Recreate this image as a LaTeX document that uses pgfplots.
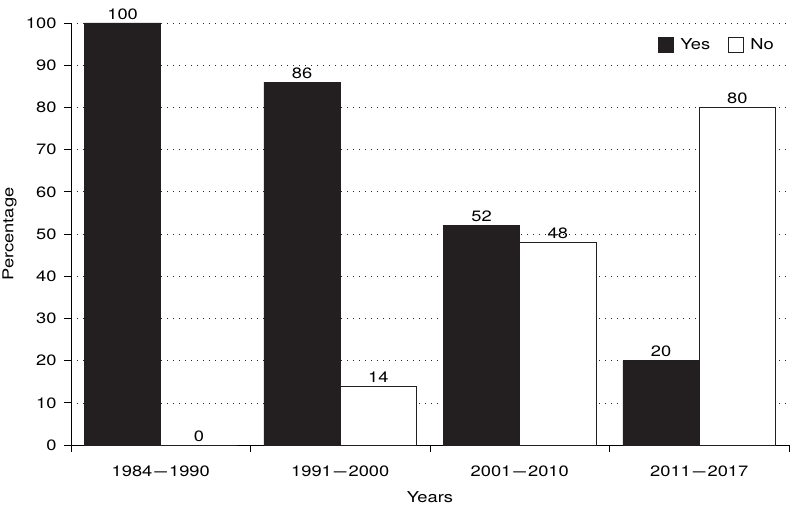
\documentclass[border=0pt]{standalone}
\usepackage{fontspec}
\setmainfont[FakeStretch=1.22]{TeX Gyre Heros}
\usepackage{graphicx}
\usepackage{pgfplots}
\pgfplotsset{compat=1.18}
\usetikzlibrary{calc}
\definecolor{barblack}{HTML}{231F20}
\newcommand{\yd}{\kern2pt\scalebox{1.25}[1]{--}\kern2pt}
\begin{document}
\begin{tikzpicture}[font=\fontsize{15}{18}\selectfont]
\begin{axis}[
  width=718pt, height=422pt, scale only axis,
  ybar=0pt, bar width=0.425,
  xmin=-0.5, xmax=3.5, ymin=0, ymax=100,
  xtick={-0.5,0.5,1.5,2.5,3.5}, xticklabels={},
  extra x ticks={0,1,2,3},
  extra x tick labels={1984\yd 1990,1991\yd 2000,2001\yd 2010,2011\yd 2017},
  extra x tick style={major tick length=0pt, grid=none},
  xticklabel style={anchor=base, yshift=-31.7pt},
  yticklabel style={xshift=-4pt},
  ytick={0,10,...,100},
  axis x line*=bottom, axis y line*=left,
  tick align=outside, major tick length=7pt,
  ymajorgrids,
  grid style={black!85, dash pattern=on 1pt off 5pt, line width=0.6pt},
  axis line style={line width=0.8pt, black},
  tick style={black, line width=0.8pt},
  xlabel={Years}, ylabel={Percentage},
  xlabel style={at={(axis description cs:0.5,-0.1374)}, anchor=base},
  ylabel style={at={(axis description cs:-0.0801,0.5)}, anchor=base},
  nodes near coords,
  every node near coord/.append style={black, font=\fontsize{15}{18}\selectfont},
  clip=false,
  legend style={draw=none, fill=none, at={(axis description cs:0.9861,0.9727)}, anchor=north east,
    legend columns=2, font=\fontsize{15}{18}\selectfont, inner xsep=3pt, inner ysep=2pt,
    /tikz/every odd column/.append style={column sep=5pt},
    /tikz/every even column/.append style={column sep=16pt}},
  legend image code/.code={\draw[#1] (0pt,-7.2pt) rectangle (14.4pt,7.2pt);},
  /pgf/number format/assume math mode=true,
]
\addplot[fill=barblack, draw=barblack, line width=0.8pt] coordinates {(0,100) (1,86) (2,52) (3,20)};
\addplot[fill=white, draw=barblack, line width=0.8pt] coordinates {(0,0) (1,14) (2,48) (3,80)};
\legend{Yes,No}
\end{axis}
\pgfresetboundingbox
\path ($(current axis.south west)+(-71pt,-64pt)$) rectangle ($(current axis.north east)+(1pt,23pt)$);
\end{tikzpicture}
\end{document}
